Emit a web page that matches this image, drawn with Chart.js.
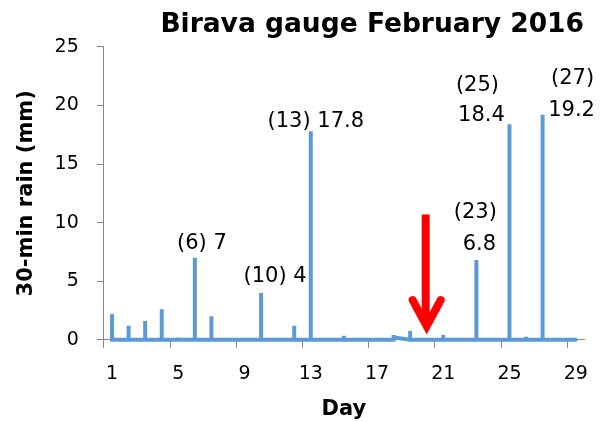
<!DOCTYPE html>
<html>
<head>
<meta charset="utf-8">
<script src="https://cdn.jsdelivr.net/npm/chart.js@4.4.1/dist/chart.umd.min.js"></script>
<style>
  html, body { margin: 0; padding: 0; background: #fff; }
  #wrap { width: 611px; height: 422px; }
</style>
</head>
<body>
<div id="wrap"><canvas id="chart"></canvas></div>
<script>
const days = ['1', '2', '3', '4', '5', '6', '7', '8', '9', '10', '11', '12', '13', '14', '15',
  '16', '17', '18', '19', '20', '21', '22', '23', '24', '25', '26', '27', '28', '29']

// days with rain, the peak 30-min value and the value left right after the peak
const rainDays = ['1', '2', '3', '4', '5', '6', '7', '10', '12', '13', '15', '18', '19', '21', '23', '25', '26', '27']
const rainPeak = [2.2, 1.2, 1.6, 2.6, 0.2, 7, 2.0, 4, 1.2, 17.8, 0.35, 0.4, 0.75, 0.4, 6.8, 18.4, 0.25, 19.2]
const rainAfter = [0, 0, 0, 0, 0, 0, 0, 0, 0, 0, 0, 0.2, 0, 0, 0, 0, 0, 0]

// labelled events
const labelDays = ['6', '10', '13', '23', '25', '27']
const labelTexts = [['(6) 7'], ['(10) 4'], ['(13) 17.8'], ['(23)', '6.8'], ['(25)', '18.4'], ['(27)', '19.2']]

// arrow marking day 20
const arrowDay = '20'
const arrowFrom = 10.7
const arrowTo = 0.4

const blue = '#5B9BD5'
const axisGrey = '#868686'
const font = 'DejaVu Sans'

// label placement relative to the top of the spike, in px [dx, dy] per line
const labelOffsets = [
  [[7, -14]],
  [[14, -16]],
  [[5, -10]],
  [[-1, -48], [3, -16]],
  [[-32, -39], [-28, -9]],
  [[30, -36], [29, -4]]
]

const points = []
rainDays.forEach((d, i) => {
  points.push({ x: d, y: 0 })
  points.push({ x: d, y: rainPeak[i] })
  points.push({ x: d, y: rainAfter[i] })
})
points.push({ x: days[days.length - 1], y: 0 })

const labelPlugin = {
  id: 'eventLabels',
  afterDatasetsDraw(chart) {
    const ctx = chart.ctx
    const xs = chart.scales.x
    const ys = chart.scales.y
    ctx.save()
    ctx.font = '21px "' + font + '"'
    ctx.fillStyle = '#000'
    ctx.textAlign = 'center'
    ctx.textBaseline = 'middle'
    labelDays.forEach((d, i) => {
      const px = xs.getPixelForValue(days.indexOf(d))
      const py = ys.getPixelForValue(rainPeak[rainDays.indexOf(d)])
      labelTexts[i].forEach((t, j) => {
        const off = labelOffsets[i][j]
        ctx.fillText(t, px + off[0], py + off[1])
      })
    })

    // red arrow
    const ax = xs.getPixelForValue(days.indexOf(arrowDay)) - 1
    const top = ys.getPixelForValue(arrowFrom)
    const tip = ys.getPixelForValue(arrowTo)
    ctx.strokeStyle = '#FF0000'
    ctx.lineWidth = 8
    ctx.lineCap = 'butt'
    ctx.beginPath()
    ctx.moveTo(ax, top)
    ctx.lineTo(ax, tip - 14)
    ctx.stroke()
    ctx.lineCap = 'round'
    ctx.lineJoin = 'miter'
    ctx.beginPath()
    ctx.moveTo(ax - 13, tip - 35)
    ctx.lineTo(ax + 1, tip - 9)
    ctx.lineTo(ax + 15, tip - 35)
    ctx.stroke()
    ctx.restore()
  }
}

new Chart(document.getElementById('chart'), {
  type: 'line',
  data: {
    labels: days,
    datasets: [{
      data: points,
      borderColor: blue,
      borderWidth: 4,
      borderCapStyle: 'round',
      borderJoinStyle: 'miter',
      pointRadius: 0,
      tension: 0,
      fill: false,
      clip: 8
    }]
  },
  options: {
    responsive: true,
    maintainAspectRatio: false,
    animation: false,
    layout: { padding: { left: 4.5, right: 27, top: 0, bottom: 0 } },
    plugins: {
      legend: { display: false },
      tooltip: { enabled: false },
      title: {
        display: true,
        text: 'Birava gauge February 2016',
        align: 'end',
        color: '#000',
        font: { family: font, size: 26.5, weight: 'bold' },
        padding: { top: 9, bottom: 6 }
      }
    },
    scales: {
      x: {
        type: 'category',
        offset: true,
        grid: {
          offset: true,
          drawOnChartArea: false,
          tickLength: 8,
          color: (c) => (c.index % 4 === 0 ? axisGrey : 'rgba(0,0,0,0)')
        },
        border: { display: true, color: axisGrey },
        ticks: {
          autoSkip: false,
          maxRotation: 0,
          padding: 14.6,
          color: '#000',
          font: { family: font, size: 19 },
          callback: function (v, i) { return i % 4 === 0 ? this.getLabelForValue(v) : '' }
        },
        title: {
          display: true,
          text: 'Day',
          color: '#000',
          font: { family: font, size: 21, weight: 'bold' },
          padding: { top: -3, bottom: 0 }
        }
      },
      y: {
        min: 0,
        max: 25,
        grid: { drawOnChartArea: false, tickLength: 7, color: axisGrey },
        border: { display: true, color: axisGrey },
        ticks: {
          stepSize: 5,
          padding: 18,
          color: '#000',
          font: { family: font, size: 19 }
        },
        title: {
          display: true,
          text: '30-min rain (mm)',
          color: '#000',
          font: { family: font, size: 21, weight: 'bold' },
          padding: { top: 9.9, bottom: -3 }
        }
      }
    }
  },
  plugins: [labelPlugin]
})
</script>
</body>
</html>
